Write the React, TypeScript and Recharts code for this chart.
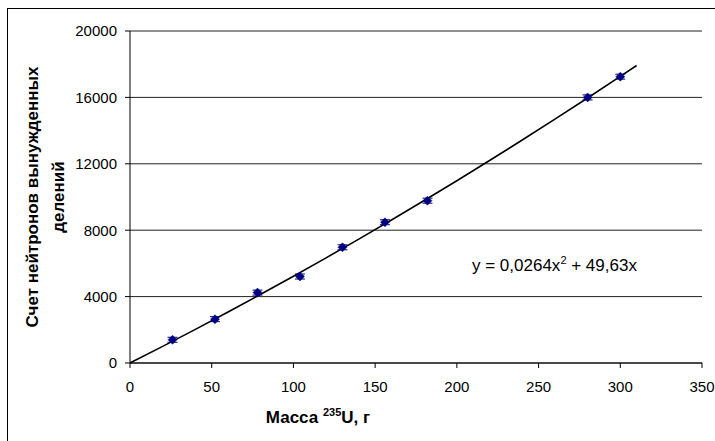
import {
  CartesianGrid,
  ComposedChart,
  Customized,
  ErrorBar,
  Line,
  Scatter,
  XAxis,
  YAxis,
} from "recharts";

// Mass of U-235 samples, g
const masses = [26, 52, 78, 104, 130, 156, 182, 280, 300];
// Induced fission neutron counts
const counts = [1400, 2640, 4240, 5210, 6970, 8480, 9780, 16000, 17250];
// Counting uncertainty (±)
const countErrors = [150, 150, 150, 150, 150, 150, 150, 150, 150];

// Polynomial trend coefficients shown on the chart: y = a·x² + b·x
const trendA = 0.0264;
const trendB = 49.63;
const trendX = [0, 20, 40, 60, 80, 100, 120, 140, 160, 180, 200, 220, 240, 260, 280, 300, 310];

const xTicks = [0, 50, 100, 150, 200, 250, 300, 350];
const yTicks = [0, 4000, 8000, 12000, 16000, 20000];

const points = masses.map((m, i) => ({ x: m, y: counts[i], err: countErrors[i] }));
const trend = trendX.map((x) => ({ x, y: trendA * x * x + trendB * x }));

const font = "'Liberation Sans', Arial, sans-serif";
const navy = "#000080";
const tick = { fill: "#000", fontSize: 15, fontFamily: font };

const Diamond = (props: any) => {
  const { cx, cy } = props;
  if (cx == null || cy == null) return null;
  const r = 4.5;
  return (
    <polygon
      points={`${cx},${cy - r} ${cx + r},${cy} ${cx},${cy + r} ${cx - r},${cy}`}
      fill={navy}
      stroke={navy}
      strokeWidth={0.5}
    />
  );
};

const Titles = () => (
  <g fontFamily={font} fill="#000">
    <text x={318} y={423} textAnchor="middle" fontSize={17} fontWeight={700}>
      Масса{" "}
      <tspan fontSize={11} dy={-7}>
        235
      </tspan>
      <tspan dy={7}>U, г</tspan>
    </text>
    <g transform="translate(38, 197) rotate(-90)">
      <text x={0} y={0} textAnchor="middle" fontSize={17} fontWeight={700}>
        Счет нейтронов вынужденных
      </text>
      <text x={0} y={26} textAnchor="middle" fontSize={17} fontWeight={700}>
        делений
      </text>
    </g>
    <text x={472} y={271} fontSize={17}>
      y = 0,0264x
      <tspan fontSize={11} dy={-7}>
        2
      </tspan>
      <tspan dy={7}> + 49,63x</tspan>
    </text>
  </g>
);

export default function App() {
  return (
    <div
      style={{
        position: "fixed",
        left: 0,
        top: 0,
        width: 715,
        height: 441,
        overflow: "hidden",
        background: "#fff",
      }}
    >
      <div
        style={{
          position: "absolute",
          left: 7,
          top: 8,
          width: 760,
          height: 480,
          border: "1px solid #000",
        }}
      />
      <div style={{ position: "absolute", left: 0, top: 0 }}>
        <ComposedChart
          width={715}
          height={441}
          margin={{ top: 31, right: 13, bottom: 28, left: 0 }}
        >
          <CartesianGrid horizontal vertical={false} stroke="#222" strokeWidth={1} />
          <XAxis
            type="number"
            dataKey="x"
            domain={[0, 350]}
            ticks={xTicks}
            interval={0}
            height={50}
            tick={tick}
            tickSize={5}
            tickMargin={13}
            stroke="#000"
            allowDataOverflow
          />
          <YAxis
            type="number"
            dataKey="y"
            domain={[0, 20000]}
            ticks={yTicks}
            interval={0}
            width={130}
            tick={tick}
            tickSize={5}
            tickMargin={8}
            stroke="#000"
          />
          <Line
            data={trend}
            dataKey="y"
            type="monotone"
            stroke="#000"
            strokeWidth={1.6}
            dot={false}
            activeDot={false}
            isAnimationActive={false}
          />
          <Scatter data={points} dataKey="y" shape={<Diamond />} isAnimationActive={false}>
            <ErrorBar dataKey="err" direction="y" width={5} stroke={navy} strokeWidth={1} isAnimationActive={false} />
          </Scatter>
          <Customized component={<Titles />} />
        </ComposedChart>
      </div>
    </div>
  );
}
